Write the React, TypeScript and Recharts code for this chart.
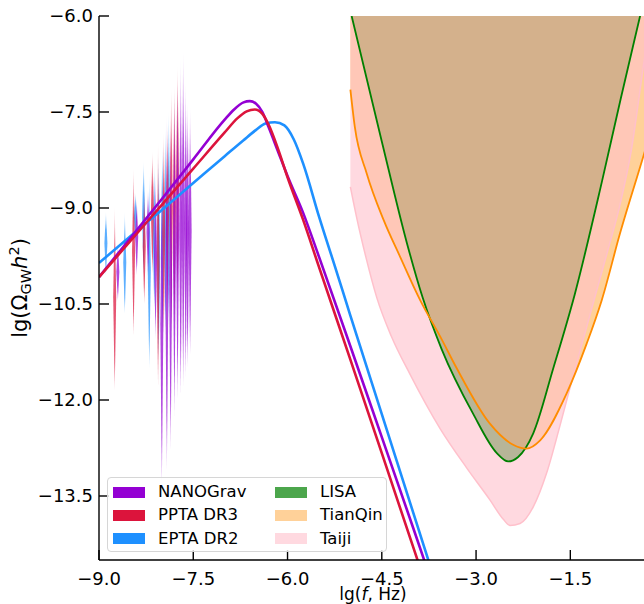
import { ComposedChart, Area, Line, XAxis, YAxis, Label } from 'recharts'

/* ── Axes ────────────────────────────────────────────────── */

const X_TICKS = [-9, -7.5, -6, -4.5, -3, -1.5]
const Y_TICKS = [-13.5, -12, -10.5, -9, -7.5, -6]
const X_DOMAIN = [-9, -0.28]
const Y_DOMAIN = [-14.5, -6]
const BAND_TOP = -5

/* ── Model spectra (lg f, lg Ω h²) ───────────────────────── */

const nanoModelX = [-9.0, -8.5, -8.0, -7.5, -7.0, -6.85, -6.7, -6.6, -6.5, -6.4, -6.3, -6.15, -6.0, -5.75, -5.5, -5.0, -4.5, -4.0, -3.6]
const nanoModelY = [-10.08, -9.47, -8.86, -8.24, -7.62, -7.46, -7.35, -7.33, -7.37, -7.5, -7.74, -8.12, -8.5, -9.08, -9.76, -11.16, -12.58, -14.0, -15.15]

const pptaModelX = [-9.0, -8.5, -8.0, -7.5, -7.0, -6.8, -6.65, -6.52, -6.4, -6.3, -6.15, -6.0, -5.75, -5.5, -5.0, -4.5, -4.0, -3.6]
const pptaModelY = [-10.08, -9.515, -8.95, -8.385, -7.82, -7.6, -7.49, -7.46, -7.53, -7.7, -8.08, -8.52, -9.19, -9.92, -11.37, -12.83, -14.3, -15.47]

const eptaModelX = [-9.0, -8.5, -8.0, -7.5, -7.0, -6.7, -6.5, -6.35, -6.2, -6.05, -5.9, -5.75, -5.5, -5.25, -5.0, -4.5, -4.0, -3.5]
const eptaModelY = [-9.86, -9.44, -9.03, -8.61, -8.19, -7.94, -7.78, -7.68, -7.66, -7.71, -7.93, -8.31, -9.13, -9.9, -10.68, -12.22, -13.76, -15.3]

/* ── PTA free-spectrum violins ───────────────────────────── */

const nanoFreq = [-8.7, -8.4, -8.22, -8.1, -8.0, -7.92, -7.86, -7.8, -7.75, -7.7, -7.66, -7.62, -7.59, -7.55]
const nanoHigh = [-9.55, -8.85, -8.7, -8.45, -8.3, -7.5, -7.55, -7.15, -6.95, -6.65, -6.5, -7.0, -7.3, -7.4]
const nanoLow = [-10.45, -10.05, -10.05, -11.05, -13.35, -13.1, -12.8, -12.25, -12.0, -11.95, -11.8, -11.65, -11.5, -11.3]

const pptaFreq = [-8.75, -8.45, -8.28, -8.15, -8.06, -7.97, -7.91, -7.85, -7.8, -7.75]
const pptaHigh = [-8.95, -8.35, -8.7, -8.1, -7.95, -7.8, -7.65, -7.1, -7.05, -6.75]
const pptaLow = [-11.85, -11.0, -10.5, -10.05, -11.8, -11.0, -10.6, -10.95, -10.9, -10.5]

const eptaFreq = [-8.89, -8.59, -8.42, -8.29, -8.2, -8.12, -8.05, -7.99, -7.94, -7.89]
const eptaHigh = [-9.05, -9.05, -8.75, -8.25, -8.45, -8.3, -8.15, -8.0, -7.72, -7.47]
const eptaLow = [-10.05, -10.65, -9.55, -10.05, -11.5, -10.6, -11.35, -11.0, -10.95, -10.8]

/* ── Detector sensitivity curves ─────────────────────────── */

const lisaX = [-4.98, -4.5, -4.1, -3.85, -3.55, -3.05, -2.67, -2.49, -2.33, -2.09, -1.77, -1.43, -1.0, -0.7, -0.39, -0.2]
const lisaY = [-6.0, -7.96, -9.55, -10.4, -11.2, -12.21, -12.83, -12.96, -12.89, -12.52, -11.5, -10.35, -8.6, -7.3, -6.0, -5.2]

const tianqinX = [-5.0, -4.93, -4.74, -4.47, -4.21, -3.89, -3.57, -3.31, -2.78, -2.41, -2.2, -1.98, -1.56, -1.24, -1.0, -0.71, -0.34, -0.1]
const tianqinY = [-7.15, -7.73, -8.46, -9.19, -9.76, -10.44, -11.01, -11.5, -12.37, -12.7, -12.76, -12.63, -11.9, -11.12, -10.44, -9.4, -8.2, -7.4]

const taijiX = [-5.0, -4.9, -4.75, -4.58, -4.35, -4.05, -3.57, -3.15, -2.78, -2.57, -2.46, -2.3, -2.09, -1.88, -1.67, -1.46, -1.24, -1.14, -0.9, -0.71, -0.53, -0.34, -0.15]
const taijiY = [-8.67, -9.15, -9.78, -10.4, -11.0, -11.6, -12.45, -13.06, -13.56, -13.86, -13.96, -13.93, -13.67, -13.15, -12.42, -11.64, -10.86, -10.5, -9.65, -8.95, -8.1, -6.8, -5.5]

/* ── Legend ──────────────────────────────────────────────── */

const legendNames = ['NANOGrav', 'PPTA DR3', 'EPTA DR2', 'LISA', 'TianQin', 'Taiji']
const legendColors = ['#9400D3', '#DC143C', '#1E90FF', 'rgba(0,128,0,0.7)', 'rgba(255,140,0,0.4)', 'rgba(255,192,203,0.6)']

const FONT = '"DejaVu Sans", sans-serif'
const VIOLIN_HALF = 0.024

const fmt = (v: number) => v.toFixed(1).replace('-', '\u2212')

const toLine = (xs: number[], ys: number[]) => xs.map((x, i) => ({ x, y: ys[i] }))
const toBand = (xs: number[], ys: number[]) => xs.map((x, i) => ({ x, r: [ys[i], BAND_TOP] }))

function toViolins(freqs: number[], lows: number[], highs: number[]) {
  return freqs.map((f, i) => {
    const m = (lows[i] + highs[i]) / 2
    return [
      { x: f - VIOLIN_HALF, r: [m, m] },
      { x: f, r: [lows[i], highs[i]] },
      { x: f + VIOLIN_HALF, r: [m, m] },
    ]
  })
}

const tickStyle = { fill: '#000', fontSize: 18, fontFamily: FONT }
const spine = { stroke: '#000', strokeWidth: 1.4 }

function XLabel(props: any) {
  const { x, y, width } = props.viewBox
  return (
    <text x={x + width / 2} y={y + 39.5} textAnchor="middle" fontSize={17} fontFamily={FONT} fill="#000">
      lg(<tspan fontStyle="italic">f</tspan>, Hz)
    </text>
  )
}

function YLabel(props: any) {
  const { x, y, height } = props.viewBox
  const cx = x + 27
  const cy = y + height / 2
  return (
    <text x={cx} y={cy} textAnchor="middle" fontSize={21} fontFamily={FONT} fill="#000" transform={`rotate(-90, ${cx}, ${cy})`}>
      lg(Ω<tspan fontSize={14.5} dy={4}>GW</tspan>
      <tspan fontStyle="italic" dy={-4}>h</tspan>
      <tspan fontSize={14.5} dy={-8}>2</tspan>
      <tspan dy={8}>)</tspan>
    </text>
  )
}

function VioGradient({ id, color }: { id: string; color: string }) {
  return (
    <linearGradient id={id} x1="0" y1="0" x2="0" y2="1">
      <stop offset="0%" stopColor={color} stopOpacity={0} />
      <stop offset="30%" stopColor={color} stopOpacity={0.72} />
      <stop offset="85%" stopColor={color} stopOpacity={0.72} />
      <stop offset="100%" stopColor={color} stopOpacity={0.3} />
    </linearGradient>
  )
}

export default function App() {
  const pta = [
    { key: 'epta', fill: 'url(#vio-epta)', sets: toViolins(eptaFreq, eptaLow, eptaHigh) },
    { key: 'ppta', fill: 'url(#vio-ppta)', sets: toViolins(pptaFreq, pptaLow, pptaHigh) },
    { key: 'nano', fill: 'url(#vio-nano)', sets: toViolins(nanoFreq, nanoLow, nanoHigh) },
  ]

  return (
    <div style={{ position: 'fixed', left: 0, top: 0, width: 644, height: 604, overflow: 'hidden', background: '#fff' }}>
      <ComposedChart width={647} height={604} margin={{ top: 16, right: 0, bottom: 0, left: 0 }}>
        <defs>
          <VioGradient id="vio-nano" color="#9400D3" />
          <VioGradient id="vio-ppta" color="#DC143C" />
          <VioGradient id="vio-epta" color="#1E90FF" />
        </defs>

        <XAxis
          type="number"
          dataKey="x"
          domain={X_DOMAIN}
          ticks={X_TICKS}
          interval={0}
          allowDataOverflow
          tickFormatter={fmt}
          tickSize={-10}
          tickMargin={22}
          height={44}
          tick={tickStyle}
          axisLine={spine}
          tickLine={spine}
        >
          <Label content={XLabel} />
        </XAxis>
        <XAxis
          xAxisId="top"
          orientation="top"
          type="number"
          dataKey="x"
          domain={X_DOMAIN}
          ticks={X_TICKS}
          interval={0}
          allowDataOverflow
          tickFormatter={() => ''}
          tickSize={-10}
          height={0}
          axisLine={spine}
          tickLine={spine}
        />
        <YAxis
          type="number"
          domain={Y_DOMAIN}
          ticks={Y_TICKS}
          interval={0}
          allowDataOverflow
          tickFormatter={fmt}
          tickSize={-10}
          tickMargin={16}
          width={99}
          tick={tickStyle}
          axisLine={spine}
          tickLine={spine}
        >
          <Label content={YLabel} />
        </YAxis>
        <YAxis
          yAxisId="right"
          orientation="right"
          type="number"
          domain={Y_DOMAIN}
          ticks={Y_TICKS}
          interval={0}
          allowDataOverflow
          tickFormatter={() => ''}
          tickSize={-10}
          width={0}
          axisLine={spine}
          tickLine={spine}
        />

        {/* detector bands: LISA, then TianQin, then Taiji on top */}
        <Area data={toBand(lisaX, lisaY)} dataKey="r" type="monotone" fill="#008000" fillOpacity={0.7} stroke="none" isAnimationActive={false} activeDot={false} />
        <Area data={toBand(tianqinX, tianqinY)} dataKey="r" type="monotone" fill="#FF8C00" fillOpacity={0.4} stroke="none" isAnimationActive={false} activeDot={false} />
        <Area data={toBand(taijiX, taijiY)} dataKey="r" type="monotone" fill="#FFC0CB" fillOpacity={0.6} stroke="none" isAnimationActive={false} activeDot={false} />
        <Line data={toLine(taijiX, taijiY)} dataKey="y" type="monotone" stroke="#FFC0CB" strokeWidth={1.5} dot={false} activeDot={false} isAnimationActive={false} />
        <Line data={toLine(lisaX, lisaY)} dataKey="y" type="monotone" stroke="#008000" strokeWidth={1.8} dot={false} activeDot={false} isAnimationActive={false} />
        <Line data={toLine(tianqinX, tianqinY)} dataKey="y" type="monotone" stroke="#FF8C00" strokeWidth={1.8} dot={false} activeDot={false} isAnimationActive={false} />

        {pta.map((p) =>
          p.sets.map((d, i) => (
            <Area
              key={`${p.key}-${i}`}
              data={d}
              dataKey="r"
              type="linear"
              fill={p.fill}
              fillOpacity={1}
              stroke="none"
              isAnimationActive={false}
              activeDot={false}
            />
          )),
        )}

        <Line data={toLine(eptaModelX, eptaModelY)} dataKey="y" type="monotone" stroke="#1E90FF" strokeWidth={2.6} dot={false} activeDot={false} isAnimationActive={false} />
        <Line data={toLine(nanoModelX, nanoModelY)} dataKey="y" type="monotone" stroke="#9400D3" strokeWidth={2.6} dot={false} activeDot={false} isAnimationActive={false} />
        <Line data={toLine(pptaModelX, pptaModelY)} dataKey="y" type="monotone" stroke="#DC143C" strokeWidth={2.6} dot={false} activeDot={false} isAnimationActive={false} />
      </ComposedChart>

      <div
        style={{
          position: 'absolute',
          left: 107,
          top: 477,
          width: 280,
          height: 75,
          boxSizing: 'border-box',
          border: '1px solid #d6d6d6',
          borderRadius: 4,
          background: 'rgba(255,255,255,0.8)',
          fontFamily: FONT,
          fontSize: 16.5,
          color: '#000',
        }}
      >
        {legendNames.map((name, i) => {
          const col = Math.floor(i / 3)
          const row = i % 3
          const left = 5 + col * 162
          const top = 8 + row * 23.3
          return (
            <div key={name} style={{ position: 'absolute', left, top, height: 12, display: 'flex', alignItems: 'center' }}>
              <div style={{ width: 32, height: 11, background: legendColors[i] }} />
              <span style={{ marginLeft: 13, whiteSpace: 'nowrap', lineHeight: '16px' }}>{name}</span>
            </div>
          )
        })}
      </div>
    </div>
  )
}
